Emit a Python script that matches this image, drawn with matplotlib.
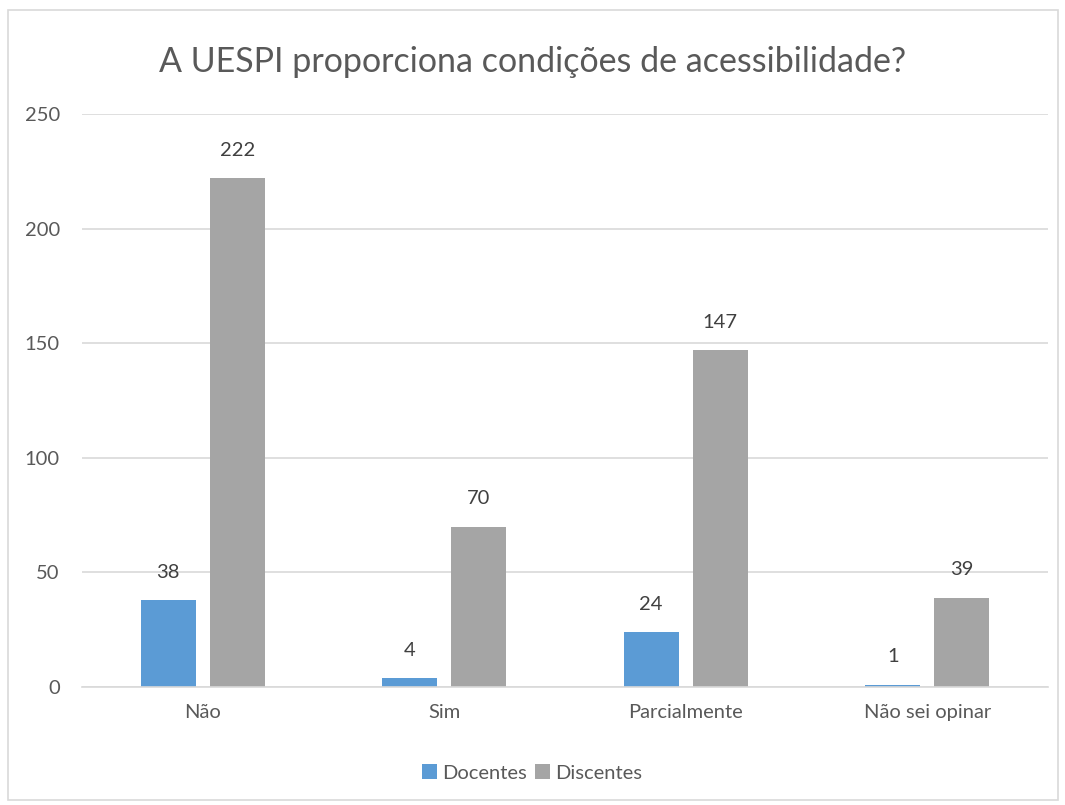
import matplotlib.pyplot as plt
import numpy as np
from matplotlib.patches import Rectangle

categorias = ['Não', 'Sim', 'Parcialmente', 'Não sei opinar']
docentes = [38, 4, 24, 1]
discentes = [222, 70, 147, 39]
titulo = 'A UESPI proporciona condições de acessibilidade?'

plt.rcParams['font.family'] = ['Lato', 'DejaVu Sans']
cor_texto = '#595959'
fs = 14.5

fig = plt.figure(figsize=(10.65, 8.05), dpi=100)
ax = fig.add_axes([0.077, 0.1466, 0.907, 0.7118])

x = np.arange(len(categorias))
w = 0.228
b1 = ax.bar(x - 0.143, docentes, w, color='#5B9BD5', label='Docentes')
b2 = ax.bar(x + 0.143, discentes, w, color='#A5A5A5', label='Discentes')

for barras in (b1, b2):
    for r in barras:
        ax.annotate(str(int(r.get_height())),
                    (r.get_x() + r.get_width() / 2, r.get_height()),
                    xytext=(0, 20), textcoords='offset points',
                    ha='center', va='center', fontsize=fs, color='#404040')

ax.set_xlim(-0.5, 3.5)
ax.set_ylim(0, 250)
ax.set_yticks(range(0, 251, 50))
ax.set_xticks(x)
ax.set_xticklabels(categorias)
ax.yaxis.grid(True, color='#D9D9D9', linewidth=1.2)
ax.set_axisbelow(True)
for s in ['top', 'right', 'left']:
    ax.spines[s].set_visible(False)
ax.spines['bottom'].set_color('#D9D9D9')
ax.spines['bottom'].set_linewidth(1.2)
ax.tick_params(length=0, labelsize=fs, labelcolor=cor_texto)
ax.tick_params(axis='y', pad=16)
ax.tick_params(axis='x', pad=12)

fig.text(0.5, 0.923, titulo, ha='center', va='center', fontsize=24.5, color=cor_texto)

ax.legend(loc='center', bbox_to_anchor=(0.5, 1 - 773 / 805), bbox_transform=fig.transFigure,
          ncol=2, frameon=False, fontsize=fs, handlelength=0.7, handleheight=0.7,
          handletextpad=0.3, columnspacing=0.4, labelcolor=cor_texto)

fig.patches.append(Rectangle((8 / 1065, 1 - 800 / 805), 1050 / 1065, 790 / 805,
                             transform=fig.transFigure, fill=False,
                             edgecolor='#D9D9D9', linewidth=1.2))

fig.savefig('out.png', dpi=100)
